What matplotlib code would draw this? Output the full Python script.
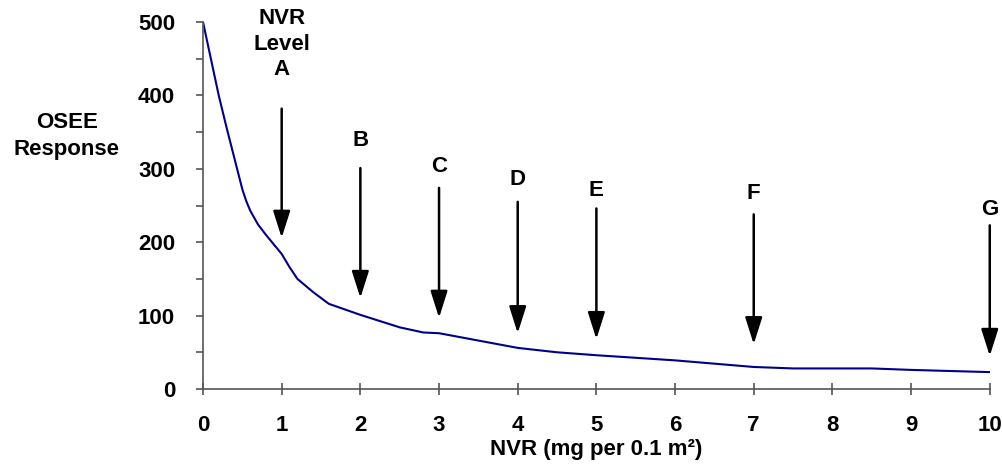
import numpy as np
import matplotlib.pyplot as plt
from matplotlib.ticker import MultipleLocator

plt.rcParams['font.family'] = ['Liberation Sans', 'DejaVu Sans']
plt.rcParams['font.weight'] = 'bold'

# OSEE response curve
nvr = [0, 0.1, 0.2, 0.3, 0.4, 0.5, 0.55, 0.6, 0.7, 0.8, 0.9, 1.0, 1.1, 1.2, 1.3, 1.4, 1.6,
       2.0, 2.5, 2.8, 3.0, 3.5, 4.0, 4.5, 5.0, 6.0, 7.0, 7.5, 8.0, 8.5, 9.0, 10.0]
osee = [500, 450, 400, 356, 314, 272, 256, 243, 224, 210, 197, 184, 166, 150, 141, 132, 116,
        101, 84, 77, 76, 66, 56, 50, 46, 39, 30, 28, 28, 28, 26, 23]

# NVR level markers: x, label, label y, arrow top, arrow tip
lvl_x = [1, 2, 3, 4, 5, 7, 10]
lvl_names = ['NVR\nLevel\nA', 'B', 'C', 'D', 'E', 'F', 'G']
lvl_label_y = [470, 339, 303, 285, 271, 267, 244]
lvl_top = [382, 301, 274, 255, 246, 238, 223]
lvl_tip = [206, 124, 97, 76, 68, 61, 45]

fig = plt.figure(figsize=(10.03, 4.69), dpi=100)
ax = fig.add_axes([0.2024, 0.1706, 0.7844, 0.7824])

ax.plot(nvr, osee, color='#00008B', lw=1.5)

for x, name, ly, top, tip in zip(lvl_x, lvl_names, lvl_label_y, lvl_top, lvl_tip):
    ax.annotate('', xy=(x, tip), xytext=(x, top),
                arrowprops=dict(arrowstyle='-|>,head_length=0.82,head_width=0.26',
                                mutation_scale=20, lw=1.8, color='black',
                                shrinkA=0, shrinkB=0),
                annotation_clip=False)
    ax.text(x, ly, name, ha='center', va='center', fontsize=16,
            fontweight='bold', linespacing=1.27, clip_on=False)

ax.set_xlim(0, 10)
ax.set_ylim(0, 500)
ax.xaxis.set_major_locator(MultipleLocator(1))
ax.yaxis.set_major_locator(MultipleLocator(100))
ax.yaxis.set_minor_locator(MultipleLocator(50))

for s in ['top', 'right']:
    ax.spines[s].set_visible(False)
for s in ['left', 'bottom']:
    ax.spines[s].set_color('#555555')
    ax.spines[s].set_linewidth(1.2)

ax.tick_params(axis='x', direction='inout', length=8, width=1.2, color='#555555',
               pad=15, labelsize=16)
ax.tick_params(axis='y', which='both', direction='out', length=5, width=1.2,
               color='#555555', pad=15, labelsize=16)
for lab in ax.get_xticklabels() + ax.get_yticklabels():
    lab.set_fontweight('bold')

ax.set_xlabel('NVR (mg per 0.1 m²)', fontsize=16, fontweight='bold', labelpad=2)
fig.text(67 / 1003, 1 - 136 / 469, 'OSEE\nResponse', ha='center', va='center',
         fontsize=16, fontweight='bold', linespacing=1.37)

fig.savefig('out.png', dpi=100)
